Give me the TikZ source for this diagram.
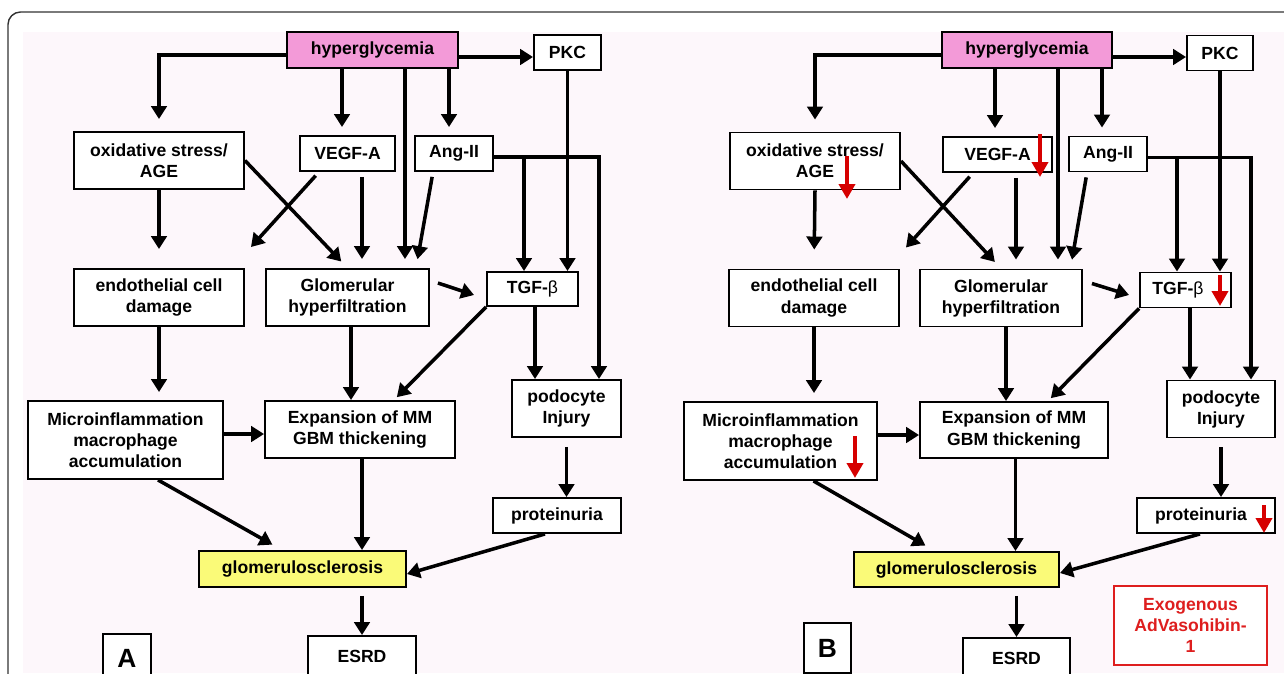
\documentclass[tikz,border=0pt]{standalone}
\usepackage{fontspec}
\setmainfont{Liberation Sans}
\usetikzlibrary{arrows.meta}

\definecolor{bgpink}{RGB}{253,247,251}
\definecolor{hypink}{RGB}{243,154,216}
\definecolor{gsyellow}{RGB}{250,250,120}
\definecolor{downred}{RGB}{214,0,0}
\definecolor{exored}{RGB}{222,30,30}

\tikzset{
  box/.style={draw, line width=1.1pt, fill=white, inner sep=0pt, align=center,
    font=\fontsize{10}{12}\selectfont\bfseries},
  arr/.style={line width=2pt, -{Triangle[length=2.6mm,width=3.1mm]}},
  redarr/.style={draw=downred, line width=0.9mm, -{Triangle[length=3mm,width=3.2mm]}},
  panellabel/.style={draw, line width=1.4pt, fill=white, inner sep=0pt,
    font=\fontsize{15}{18}\selectfont\bfseries}
}

\begin{document}
\begin{tikzpicture}[x=0.02cm,y=-0.02cm]
        \useasboundingbox (0,0) rectangle (1284,673);
        \clip (0,0) rectangle (1284,673);

        % frame and background
        \draw[gray!40!black, line width=0.8pt, rounded corners=2.5mm] (8,12) rectangle (1330,720);
        \fill[bgpink] (23,32) rectangle (1284,673);

        % panel A: boxes
        \node[box, fill=hypink, minimum width=3.42cm, minimum height=0.72cm] (hypA) at (372.5,50) {hyperglycemia};
        \node[box, minimum width=1.34cm, minimum height=0.7cm] (pkcA) at (567.5,52.5) {PKC};
        \node[box, minimum width=3.4cm, minimum height=1.14cm] (oxA) at (159,160.5) {oxidative stress/\\AGE};
        \node[box, minimum width=1.9cm, minimum height=0.7cm] (vegfA) at (347.5,153.5) {VEGF-A};
        \node[box, minimum width=1.56cm, minimum height=0.7cm] (angA) at (454,153.5) {Ang-II};
        \node[box, minimum width=3.4cm, minimum height=1.14cm] (endoA) at (159,297.5) {endothelial cell\\damage};
        \node[box, minimum width=3.26cm, minimum height=1.14cm] (glomA) at (347.5,297.5) {Glomerular\\hyperfiltration};
        \node[box, minimum width=1.82cm, minimum height=0.68cm] (tgfA) at (532.5,289) {TGF-{\mdseries β}};
        \node[box, minimum width=3.9cm, minimum height=1.56cm] (microA) at (125.5,440) {Microinflammation\\macrophage\\accumulation};
        \node[box, minimum width=3.8cm, minimum height=1.14cm] (expA) at (360,429.5) {Expansion of MM\\GBM thickening};
        \node[box, minimum width=2.18cm, minimum height=1.14cm] (podoA) at (566.5,408.5) {podocyte\\Injury};
        \node[box, minimum width=2.56cm, minimum height=0.7cm] (protA) at (557,515.5) {proteinuria};
        \node[box, fill=gsyellow, minimum width=4.14cm, minimum height=0.72cm] (gsA) at (302.5,569) {glomerulosclerosis};
        \node[box, minimum width=2.16cm, minimum height=0.8cm] (esrdA) at (362,656) {ESRD};
        \node[panellabel, minimum width=0.96cm, minimum height=0.96cm] (labA) at (127,658) {A};

        % panel A: arrows
        \draw[arr, shorten >=2.4mm] ([yshift=-1mm]hypA.west) -| (oxA.north);
        \draw[arr, shorten >=1.6mm] ([xshift=-1.1mm]vegfA.north |- hypA.south) -- ([xshift=-1.1mm]vegfA.north);
        \draw[arr, shorten >=1.8mm] ([xshift=11.5mm]glomA.north |- hypA.south) -- ([xshift=11.5mm]glomA.north);
        \draw[arr, shorten >=1.6mm] ([xshift=-1mm]angA.north |- hypA.south) -- ([xshift=-1mm]angA.north);
        \draw[arr] ([yshift=-1.4mm]hypA.east) -- ([yshift=-1.4mm]pkcA.west |- hypA.east);
        \draw[arr] (pkcA.south) -- (pkcA.south |- tgfA.north);
        \draw[arr] ([yshift=-0.7mm]angA.east) -| ([xshift=6.5mm]podoA.north);
        \draw[arr] ([xshift=-1.7mm,yshift=-0.7mm]tgfA.north |- angA.east) -- ([xshift=-1.7mm]tgfA.north);
        \draw[arr, shorten <=1mm, shorten >=1.8mm] ([xshift=-4.2mm]angA.south) -- ([xshift=13.7mm]glomA.north);
        \draw[arr, shorten <=1mm, shorten >=1.8mm] ([xshift=2.9mm]vegfA.south) -- ([xshift=2.9mm]glomA.north);
        \draw[arr, shorten <=1mm] ([xshift=-5.7mm]vegfA.south) -- ([xshift=1.2mm,yshift=4.2mm]endoA.north east);
        \draw[arr, shorten >=1.8mm] (oxA.east) -- (glomA.north);
        \draw[arr, shorten >=3.8mm] (oxA.south) -- (endoA.north);
        \draw[arr] ([xshift=1.6mm,yshift=2.9mm]glomA.east) -- ([xshift=-2.4mm,yshift=-1.2mm]tgfA.west);
        \draw[arr, shorten >=0.8mm] (tgfA.south west) -- ([xshift=6.8mm]expA.north);
        \draw[arr] ([xshift=0.5mm]tgfA.south) -- ([xshift=0.5mm]tgfA.south |- podoA.north);
        \draw[arr, shorten >=1.6mm] (endoA.south) -- (endoA.south |- microA.north);
        \draw[arr] ([xshift=0.7mm]glomA.south) -- ([xshift=0.7mm]glomA.south |- expA.north);
        \draw[arr] ([yshift=1.2mm]microA.east) -- ([yshift=1.2mm]expA.west |- microA.east);
        \draw[arr, shorten >=2.2mm] ([xshift=6.5mm]microA.south) -- ([xshift=-4.1mm]gsA.north);
        \draw[arr] ([xshift=0.4mm]expA.south) -- ([xshift=0.4mm]expA.south |- gsA.north);
        \draw[arr, shorten <=1.8mm] (podoA.south) -- (podoA.south |- protA.north);
        \draw[arr] ([xshift=-2.4mm]protA.south) -- ([yshift=-1mm]gsA.east);
        \draw[arr, shorten <=1.6mm] (esrdA.north |- gsA.south) -- (esrdA.north);

        % panel B: boxes
        \node[box, fill=hypink, minimum width=3.4cm, minimum height=0.72cm] (hypB) at (1027,50) {hyperglycemia};
        \node[box, minimum width=1.32cm, minimum height=0.7cm] (pkcB) at (1220,53) {PKC};
        \node[box, minimum width=3.4cm, minimum height=1.14cm] (oxB) at (815,161) {oxidative stress/\\AGE};
        \node[box, minimum width=2.18cm, minimum height=0.7cm] (vegfB) at (997.5,154.5) {VEGF-A};
        \node[box, minimum width=1.56cm, minimum height=0.7cm] (angB) at (1108,154) {Ang-II};
        \node[box, minimum width=3.4cm, minimum height=1.14cm] (endoB) at (814,298) {endothelial cell\\damage};
        \node[box, minimum width=3.24cm, minimum height=1.14cm] (glomB) at (1001,298) {Glomerular\\hyperfiltration};
        \node[box, minimum width=1.82cm, minimum height=0.7cm] (tgfB) at (1185.5,290) {TGF-{\mdseries β}\hspace{3mm}};
        \node[box, minimum width=3.86cm, minimum height=1.56cm] (microB) at (780.5,441) {Microinflammation\\macrophage\\accumulation};
        \node[box, minimum width=3.76cm, minimum height=1.12cm] (expB) at (1014,430) {Expansion of MM\\GBM thickening};
        \node[box, minimum width=2.16cm, minimum height=1.14cm] (podoB) at (1221,409) {podocyte\\Injury};
        \node[box, minimum width=2.76cm, minimum height=0.7cm] (protB) at (1206,515.5) {proteinuria\hspace{2mm}};
        \node[box, fill=gsyellow, minimum width=4.1cm, minimum height=0.7cm] (gsB) at (956.5,569.5) {glomerulosclerosis};
        \node[box, minimum width=2.14cm, minimum height=0.8cm] (esrdB) at (1016.5,658) {ESRD};
        \node[panellabel, minimum width=0.94cm, minimum height=1cm] (labB) at (827.5,648) {B};
        \node[box, draw=exored, text=exored, line width=1.5pt, minimum width=3.06cm, minimum height=1.58cm] (exoB) at (1190.5,625.5) {Exogenous\\AdVasohibin-\\1};

        % panel B: arrows
        \draw[arr, shorten >=2.4mm] ([yshift=-1mm]hypB.west) -| (oxB.north);
        \draw[arr, shorten >=1.6mm] ([xshift=-0.5mm]vegfB.north |- hypB.south) -- ([xshift=-0.5mm]vegfB.north);
        \draw[arr, shorten >=1.8mm] ([xshift=11.4mm]glomB.north |- hypB.south) -- ([xshift=11.4mm]glomB.north);
        \draw[arr, shorten >=1.6mm] ([xshift=-1.2mm]angB.north |- hypB.south) -- ([xshift=-1.2mm]angB.north);
        \draw[arr] ([yshift=-1.4mm]hypB.east) -- ([yshift=-1.4mm]pkcB.west |- hypB.east);
        \draw[arr] (pkcB.south) -- (pkcB.south |- tgfB.north);
        \draw[arr] ([yshift=-0.7mm]angB.east) -| ([xshift=6mm]podoB.north);
        \draw[arr] ([xshift=-1.7mm,yshift=-0.7mm]tgfB.north |- angB.east) -- ([xshift=-1.7mm]tgfB.north);
        \draw[arr, shorten <=1mm, shorten >=1.8mm] ([xshift=-4.2mm]angB.south) -- ([xshift=13.9mm]glomB.north);
        \draw[arr, shorten <=1mm, shorten >=1.8mm] ([xshift=3.7mm]vegfB.south) -- ([xshift=3.7mm]vegfB.south |- glomB.north);
        \draw[arr, shorten <=1mm] ([xshift=-4.9mm]vegfB.south) -- ([xshift=1.2mm,yshift=4.2mm]endoB.north east);
        \draw[arr, shorten >=1.8mm] (oxB.east) -- (glomB.north);
        \draw[arr, shorten >=3.8mm] (oxB.south) -- (endoB.north);
        \draw[arr] ([xshift=1.8mm,yshift=2.9mm]glomB.east) -- ([xshift=-2mm,yshift=-1mm]tgfB.west);
        \draw[arr, shorten >=0.8mm] (tgfB.south west) -- ([xshift=6.8mm]expB.north);
        \draw[arr] ([xshift=0.9mm]tgfB.south) -- ([xshift=0.9mm]tgfB.south |- podoB.north);
        \draw[arr, shorten >=1.6mm] (endoB.south) -- (endoB.south |- microB.north);
        \draw[arr] ([xshift=1mm]glomB.south) -- ([xshift=1mm]glomB.south |- expB.north);
        \draw[arr] ([yshift=1.2mm]microB.east) -- ([yshift=1.2mm]expB.west |- microB.east);
        \draw[arr, shorten >=2.2mm] ([xshift=6.6mm]microB.south) -- ([xshift=-4.3mm]gsB.north);
        \draw[arr] ([xshift=0.3mm]expB.south) -- ([xshift=0.3mm]expB.south |- gsB.north);
        \draw[arr, shorten <=1.8mm] (podoB.south) -- (podoB.south |- protB.north);
        \draw[arr] ([xshift=-1.2mm]protB.south) -- ([yshift=-0.7mm]gsB.east);
        \draw[arr, shorten <=1.6mm] (esrdB.north |- gsB.south) -- (esrdB.north);

        % panel B: red down marks
        \draw[redarr] ([xshift=6.4mm,yshift=1mm]oxB.center) -- ++(0,43);
        \draw[redarr] ([xshift=8.5mm,yshift=4.1mm]vegfB.center) -- ++(0,43);
        \draw[redarr] ([xshift=6.9mm,yshift=3mm]tgfB.center) -- ++(0,31);
        \draw[redarr] ([xshift=14.9mm,yshift=1mm]microB.center) -- ++(0,42);
        \draw[redarr] ([xshift=11.6mm,yshift=2.1mm]protB.center) -- ++(0,28);
    \end{tikzpicture}
\end{document}
